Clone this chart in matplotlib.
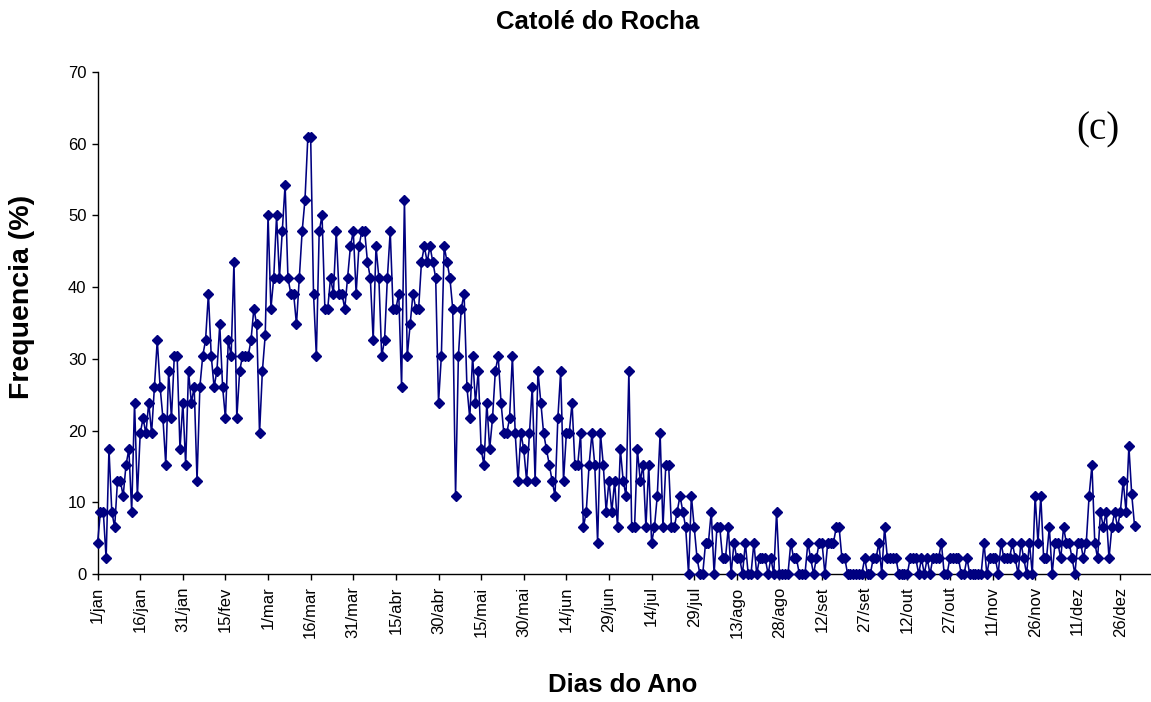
import matplotlib
matplotlib.use("Agg")
import matplotlib.pyplot as plt

# daily frequency (%) for a leap year, 1/jan .. 31/dez
freq = [
    4.35, 8.7, 8.7, 2.17, 17.4, 8.7, 6.5, 13.0, 13.0, 10.9,
    15.2, 17.4, 8.7, 23.9, 10.9, 19.6, 21.7, 19.6, 23.9, 19.6,
    26.1, 32.6, 26.1, 21.7, 15.2, 28.3, 21.7, 30.4, 30.4, 17.4,
    23.9, 15.2, 28.3, 23.9, 26.1, 13.0, 26.1, 30.4, 32.6, 39.1,
    30.4, 26.1, 28.3, 34.8, 26.1, 21.7, 32.6, 30.4, 43.5, 21.7,
    28.3, 30.4, 30.4, 30.4, 32.6, 37.0, 34.8, 19.6, 28.3, 33.3,
    50.0, 37.0, 41.3, 50.0, 41.3, 47.8, 54.3, 41.3, 39.1, 39.1,
    34.8, 41.3, 47.8, 52.2, 60.9, 60.9, 39.1, 30.4, 47.8, 50.0,
    37.0, 37.0, 41.3, 39.1, 47.8, 39.1, 39.1, 37.0, 41.3, 45.7,
    47.8, 39.1, 45.7, 47.8, 47.8, 43.5, 41.3, 32.6, 45.7, 41.3,
    30.4, 32.6, 41.3, 47.8, 37.0, 37.0, 39.1, 26.1, 52.2, 30.4,
    34.8, 39.1, 37.0, 37.0, 43.5, 45.7, 43.5, 45.7, 43.5, 41.3,
    23.9, 30.4, 45.7, 43.5, 41.3, 37.0, 10.9, 30.4, 37.0, 39.1,
    26.1, 21.7, 30.4, 23.9, 28.3, 17.4, 15.2, 23.9, 17.4, 21.7,
    28.3, 30.4, 23.9, 19.6, 19.6, 21.7, 30.4, 19.6, 13.0, 19.6,
    17.4, 13.0, 19.6, 26.1, 13.0, 28.3, 23.9, 19.6, 17.4, 15.2,
    13.0, 10.9, 21.7, 28.3, 13.0, 19.6, 19.6, 23.9, 15.2, 15.2,
    19.6, 6.5, 8.7, 15.2, 19.6, 15.2, 4.35, 19.6, 15.2, 8.7,
    13.0, 8.7, 13.0, 6.5, 17.4, 13.0, 10.9, 28.3, 6.5, 6.5,
    17.4, 13.0, 15.2, 6.5, 15.2, 4.35, 6.5, 10.9, 19.6, 6.5,
    15.2, 15.2, 6.5, 6.5, 8.7, 10.9, 8.7, 6.5, 0, 10.9,
    6.5, 2.17, 0, 0, 4.35, 4.35, 8.7, 0, 6.5, 6.5,
    2.17, 2.17, 6.5, 0, 4.35, 2.17, 2.17, 0, 4.35, 0,
    0, 4.35, 0, 2.17, 2.17, 2.17, 0, 2.17, 0, 8.7,
    0, 0, 0, 0, 4.35, 2.17, 2.17, 0, 0, 0,
    4.35, 2.17, 0, 2.17, 4.35, 4.35, 0, 4.35, 4.35, 4.35,
    6.5, 6.5, 2.17, 2.17, 0, 0, 0, 0, 0, 0,
    2.17, 0, 0, 2.17, 2.17, 4.35, 0, 6.5, 2.17, 2.17,
    2.17, 2.17, 0, 0, 0, 0, 2.17, 2.17, 2.17, 0,
    2.17, 0, 2.17, 0, 2.17, 2.17, 2.17, 4.35, 0, 0,
    2.17, 2.17, 2.17, 2.17, 0, 0, 2.17, 0, 0, 0,
    0, 0, 4.35, 0, 2.17, 2.17, 2.17, 0, 4.35, 2.17,
    2.17, 2.17, 4.35, 2.17, 0, 4.35, 2.17, 0, 4.35, 0,
    10.9, 4.35, 10.9, 2.17, 2.17, 6.5, 0, 4.35, 4.35, 2.17,
    6.5, 4.35, 4.35, 2.17, 0, 4.35, 4.35, 2.17, 4.35, 10.9,
    15.2, 4.35, 2.17, 8.7, 6.5, 8.7, 2.17, 6.5, 8.7, 6.5,
    8.7, 13.0, 8.7, 17.8, 11.1, 6.7,
]
days = list(range(1, len(freq) + 1))

tick_labels = [
    "1/jan", "16/jan", "31/jan", "15/fev", "1/mar", "16/mar", "31/mar",
    "15/abr", "30/abr", "15/mai", "30/mai", "14/jun", "29/jun", "14/jul",
    "29/jul", "13/ago", "28/ago", "12/set", "27/set", "12/out", "27/out",
    "11/nov", "26/nov", "11/dez", "26/dez",
]
tick_days = list(range(1, 15 * len(tick_labels), 15))

plt.rcParams["font.family"] = ["Liberation Sans", "DejaVu Sans"]

W, H = 1151, 702
fig = plt.figure(figsize=(W / 100, H / 100), dpi=100)
left = 97.6 / W
bottom = 1 - 574 / H
top = 1 - 72 / H
ax = fig.add_axes([left, bottom, 1 - left, top - bottom])

ax.plot(days, freq, color="#000080", lw=1.15, marker="D", ms=4.8,
        mfc="#000080", mec="#000080", clip_on=False, zorder=3)

# one day is about 2.84 px wide, axis runs to the right edge
day_px = 2.841
ax.set_xlim(1, 1 + (W - 97.6) / day_px)
ax.set_ylim(0, 70)
ax.set_yticks(range(0, 71, 10))
ax.set_xticks(tick_days)
ax.set_xticklabels(tick_labels, rotation=90, va="top", ha="center")

ax.spines["top"].set_visible(False)
ax.spines["right"].set_visible(False)
for s in ("left", "bottom"):
    ax.spines[s].set_linewidth(1.0)
    ax.spines[s].set_color("black")
ax.tick_params(axis="both", direction="out", length=4, width=1, labelsize=12)
ax.tick_params(axis="x", pad=5)
ax.tick_params(axis="y", pad=4)

fig.text(598 / W, 1 - 22 / H, "Catolé do Rocha", ha="center", va="center",
         fontsize=18.5, fontweight="bold")
fig.text(623 / W, 1 - 685 / H, "Dias do Ano", ha="center", va="center",
         fontsize=18.5, fontweight="bold")
fig.text(22 / W, 1 - 297 / H, "Frequencia (%)", ha="center", va="center",
         rotation=90, fontsize=20.5, fontweight="bold")
fig.text(1098 / W, 1 - 130 / H, "(c)", ha="center", va="center",
         fontsize=28, family="Liberation Serif")

fig.savefig("out.png", dpi=100)
